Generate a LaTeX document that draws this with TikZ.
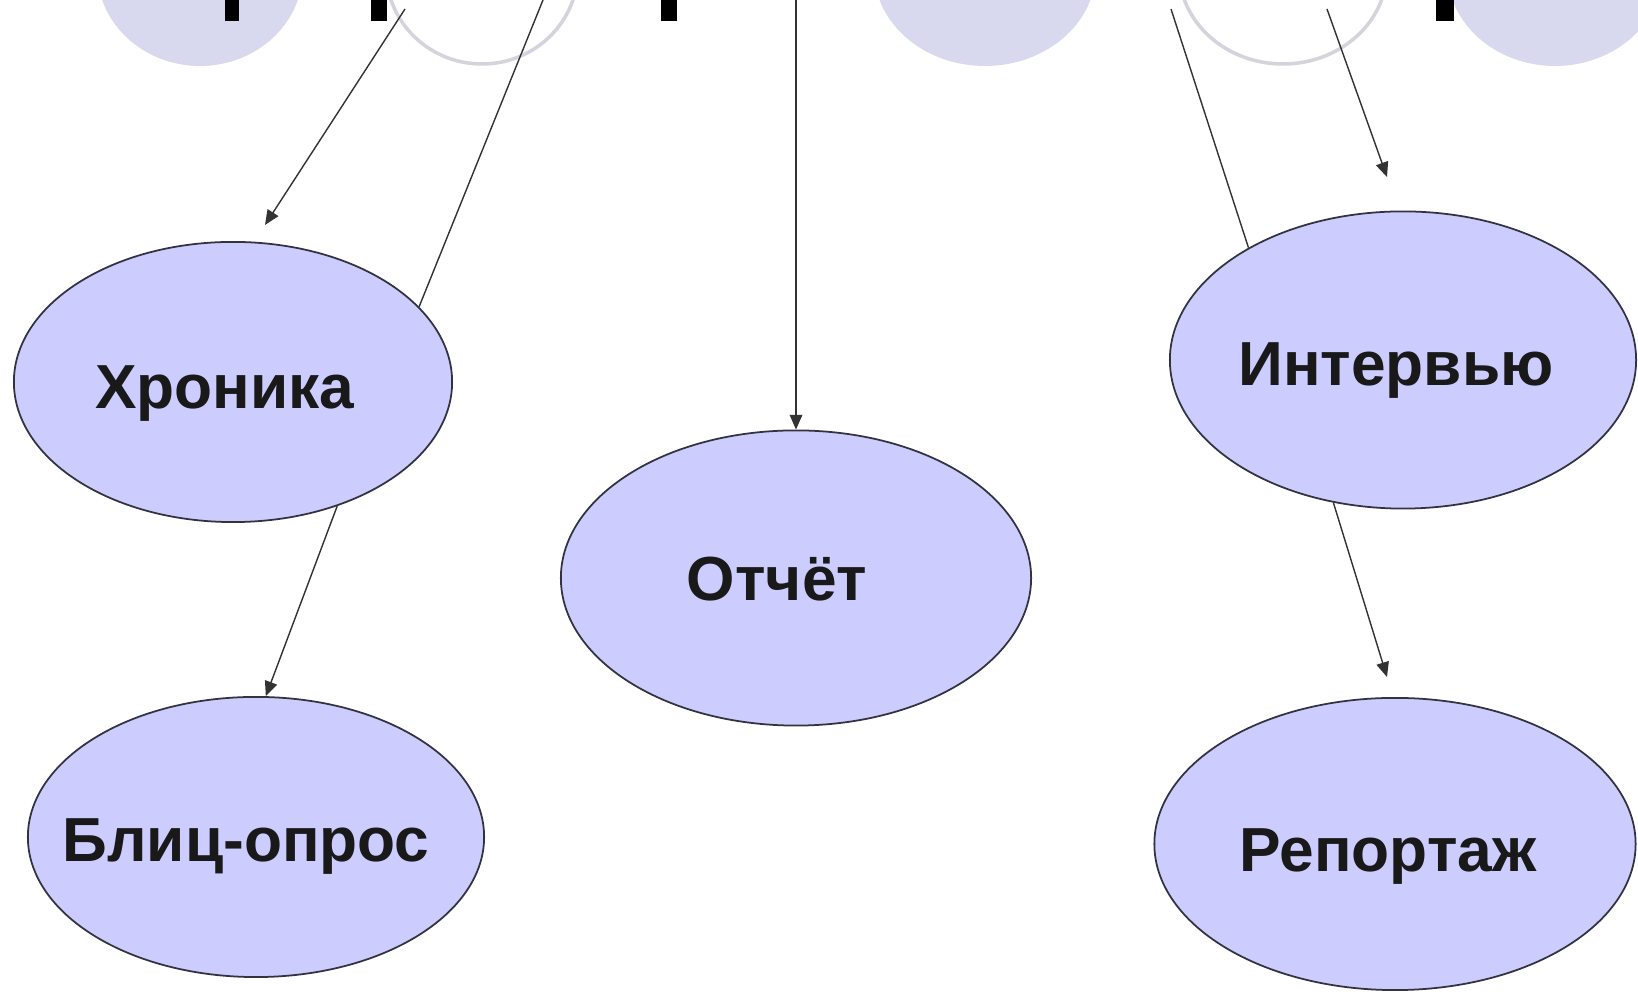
\documentclass[tikz,border=0pt]{standalone}
\usepackage{fontspec}
\setmainfont{Liberation Sans}
\usetikzlibrary{shapes.geometric,arrows.meta}
\definecolor{lav}{HTML}{CCCCFF}
\definecolor{pale}{HTML}{D8D8EE}
\definecolor{ring}{HTML}{D4D4DC}
\definecolor{ink}{HTML}{33333F}
\begin{document}
\begin{tikzpicture}[x=0.01cm,y=-0.01cm,
    genre/.style={ellipse, draw=ink, line width=0.5pt, fill=lav, inner sep=0pt},
    lbl/.style={anchor=base, font=\bfseries\fontsize{17.7}{21}\selectfont, text=black!90},
    conn/.style={line width=0.4pt, draw=black!80},
    arr/.style={conn, -{Triangle[length=4.2pt,width=3.6pt]}}]
    \useasboundingbox (0,0) rectangle (1638,992);
    \fill[white] (0,0) rectangle (1638,992);
    % faded title row, cut off by the top edge
    \begin{scope}
        \clip (0,0) rectangle (1638,992);
        \foreach \x/\r in {200/103, 985/111, 1555/108}
            \fill[pale] (\x,-30) ellipse [x radius=\r, y radius=96];
        \foreach \x/\r in {482/96, 1283/104}
            \draw[ring, line width=1pt] (\x,-30) ellipse [x radius=\r, y radius=94];
        \foreach \x/\w in {225/14, 371/16, 661/16, 1436/18}
            \fill[black] (\x,0) rectangle ++(\w,21);
    \end{scope}
    % genres
    \foreach \n/\x/\y/\w/\h in {chron/233/382/4.38/2.80, blitz/256/837/4.56/2.80,
                                otchet/796/578/4.70/2.95, intv/1403/360/4.66/2.97,
                                rep/1395/844/4.81/2.92} {
        \node[genre, minimum width=\w cm, minimum height=\h cm] (\n) at (\x,\y) {};
    }
    \node[lbl] (chron-t) at (225,409) {Хроника};
    \node[lbl] (blitz-t) at (246,862) {Блиц-опрос};
    \node[lbl] (otchet-t) at (777,601) {Отчёт};
    \node[lbl] (intv-t) at (1396,386) {Интервью};
    \node[lbl] (rep-t) at (1388,872) {Репортаж};
    % connectors
    \coordinate (s1) at (405,9);
    \coordinate (e1) at (265,225);
    \coordinate (s2) at (543,0);
    \coordinate (s4) at (796,0);
    \coordinate (s5) at (1171,9);
    \coordinate (s6) at (1327,9);
    \coordinate (e6) at (1387,177);
    \coordinate (e7) at (1387,677);
    \draw[arr] (s1) -- (e1);
    \draw[conn] (s2) -- (chron.22);
    \draw[arr] (chron.-50) -- (blitz.86);
    \draw[arr] (s4) -- (otchet.north);
    \draw[conn] (s5) -- (intv.144);
    \draw[arr] (s6) -- (e6);
    \draw[arr] (intv.-116) -- (e7);
\end{tikzpicture}
\end{document}
